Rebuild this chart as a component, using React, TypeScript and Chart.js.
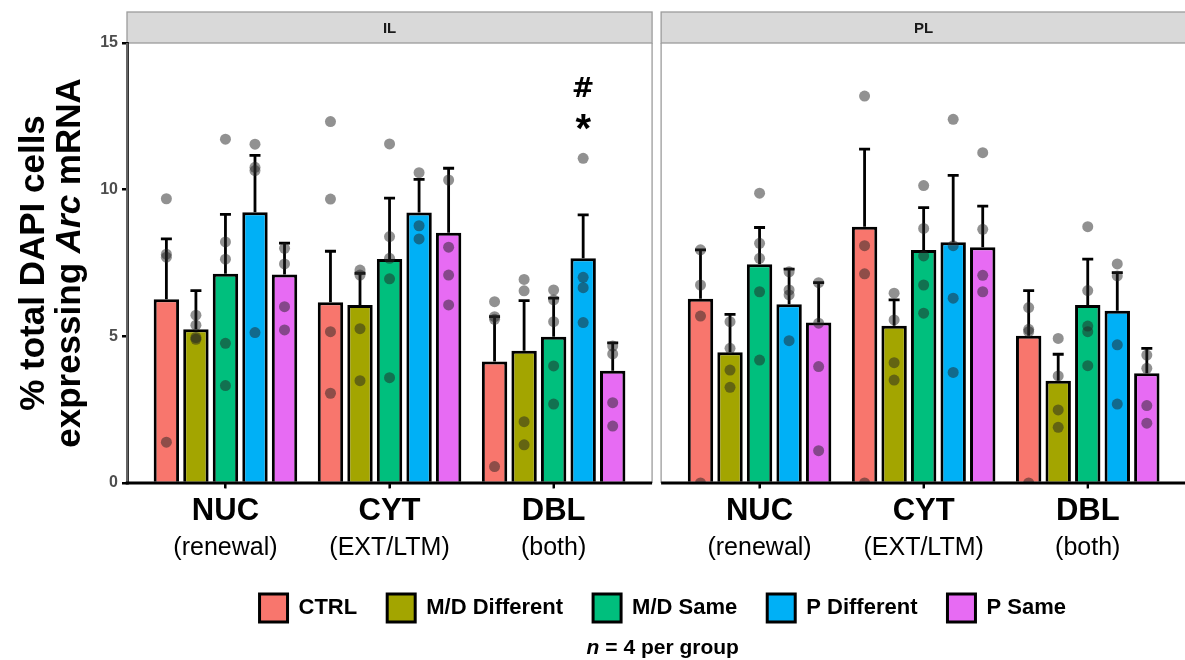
import React, { useEffect, useRef } from 'react';
import { Chart, registerables } from 'chart.js';

Chart.register(...registerables);

// ---------------- data ----------------
const panels = ['IL', 'PL'];
const categories = ['NUC', 'CYT', 'DBL'];
const subLabels = ['(renewal)', '(EXT/LTM)', '(both)'];
const groups = ['CTRL', 'M/D Different', 'M/D Same', 'P Different', 'P Same'];
const groupColors = ['#F8766D', '#A3A500', '#00BF7D', '#00B0F6', '#E76BF3'];
const yTicks = [0, 5, 10, 15];

// order of cells: IL NUC, IL CYT, IL DBL, PL NUC, PL CYT, PL DBL
const ctrlMean = [6.26, 6.16, 4.14, 6.28, 8.74, 5.02];
const mdDiffMean = [5.24, 6.07, 4.51, 4.46, 5.36, 3.49];
const mdSameMean = [7.13, 7.64, 4.99, 7.46, 7.94, 6.07];
const pDiffMean = [9.23, 9.22, 7.66, 6.09, 8.21, 5.87];
const pSameMean = [7.11, 8.53, 3.83, 5.47, 8.04, 3.74];

const ctrlUpper = [8.32, 7.9, 5.67, 7.95, 11.38, 6.56];
const mdDiffUpper = [6.56, 7.15, 6.22, 5.75, 6.24, 4.39];
const mdSameUpper = [9.16, 9.71, 6.3, 8.71, 9.39, 7.63];
const pDiffUpper = [11.17, 10.35, 9.14, 7.29, 10.49, 7.17];
const pSameUpper = [8.18, 10.73, 4.78, 6.83, 9.44, 4.59];

const ctrlPoints = [
  [9.69, 7.8, 7.7, 1.39], [12.32, 9.68, 5.16, 3.06], [6.18, 5.67, 5.58, 0.56],
  [7.95, 6.75, 5.69, 0], [13.19, 8.09, 7.13, 0], [5.98, 5.24, 5.16, 0],
];
const mdDiffPoints = [
  [5.72, 5.38, 4.96, 4.9], [7.26, 7.09, 5.26, 3.49], [6.94, 6.55, 2.09, 1.3],
  [5.5, 4.59, 3.85, 3.26], [6.47, 5.56, 4.1, 3.51], [4.93, 3.65, 2.49, 1.9],
];
const mdSamePoints = [
  [11.72, 8.22, 7.63, 4.76, 3.32], [11.56, 8.4, 7.66, 6.96, 3.59], [6.58, 6.24, 5.5, 3.99, 2.69],
  [9.88, 8.17, 7.66, 6.52, 4.19], [10.14, 8.68, 7.74, 6.75, 5.79], [8.74, 6.56, 5.35, 5.16, 4.0],
];
const pDiffPoints = [
  [11.55, 10.76, 10.65, 5.13], [10.58, 8.77, 8.32], [11.07, 7.01, 6.66, 5.47],
  [7.2, 6.58, 6.41, 4.85], [12.4, 8.09, 6.3, 3.77], [7.47, 7.06, 4.71, 2.69],
];
const pSamePoints = [
  [8.0, 7.47, 6.01, 5.22], [10.33, 8.04, 7.09, 6.07], [4.67, 4.4, 2.74, 1.94],
  [6.83, 5.45, 3.97, 1.1], [11.26, 8.65, 7.08, 6.52], [4.36, 3.91, 2.64, 2.04],
];

const sigMarks = [
  { text: '#', group: 3, cell: 2, y: 13.5 },
  { text: '*', group: 3, cell: 2, y: 12.3 },
];

const yTitleLine1 = '% total DAPI cells';
const yTitleLine2 = ['expressing ', 'Arc', ' mRNA'];
const footnoteItalic = 'n';
const footnoteRest = ' = 4 per group';

const means = [ctrlMean, mdDiffMean, mdSameMean, pDiffMean, pSameMean];
const uppers = [ctrlUpper, mdDiffUpper, mdSameUpper, pDiffUpper, pSameUpper];
const points = [ctrlPoints, mdDiffPoints, mdSamePoints, pDiffPoints, pSamePoints];

// ---------------- layout constants ----------------
const FONT = '"Liberation Sans", Arial, Helvetica, sans-serif';
const SYM_FONT = '"DejaVu Sans", "Liberation Sans", Arial, sans-serif';
const CAT_PCT = 0.9;
const BAR_PCT = 0.86;
const EXPAND = 0.6;
const PANEL_GAP = 0.055;
const PANEL_SPAN = categories.length - 1 + 2 * EXPAND;
const PL_OFFSET = PANEL_SPAN + PANEL_GAP;
const X_MIN = -EXPAND;
const X_MAX = 5.93;
const STRIP_TOP = 12;
const CANVAS_W = 1204;
const CANVAS_H = 660;

const positions = panels.flatMap((_, p) => categories.map((__, c) => p * PL_OFFSET + c));
const tickLabels = panels.flatMap(() => categories);
const tickSubLabels = panels.flatMap(() => subLabels);
const slot = CAT_PCT / groups.length;

const facetPlugin = {
  id: 'facetDecor',
  beforeDraw(chart: any) {
    const { ctx, chartArea } = chart;
    const xs = chart.scales.x;
    ctx.save();
    panels.forEach((name, p) => {
      const l = xs.getPixelForValue(p * PL_OFFSET - EXPAND);
      const r = xs.getPixelForValue(p * PL_OFFSET - EXPAND + PANEL_SPAN);
      ctx.fillStyle = '#D9D9D9';
      ctx.fillRect(l, STRIP_TOP, r - l, chartArea.top - STRIP_TOP);
      ctx.strokeStyle = '#9c9c9c';
      ctx.lineWidth = 1.3;
      ctx.strokeRect(l, STRIP_TOP, r - l, chartArea.top - STRIP_TOP);
      ctx.fillStyle = '#1a1a1a';
      ctx.font = `bold 15px ${FONT}`;
      ctx.textAlign = 'center';
      ctx.textBaseline = 'middle';
      ctx.fillText(name, (l + r) / 2, (STRIP_TOP + chartArea.top) / 2 + 1);
    });
    ctx.restore();
  },
  afterDatasetDraw(chart: any, args: any) {
    const meta = args.meta;
    if (meta.type !== 'bar') return;
    const up = uppers[args.index];
    if (!up) return;
    const { ctx } = chart;
    const ys = chart.scales.y;
    ctx.save();
    ctx.strokeStyle = '#000';
    ctx.lineWidth = 2.8;
    meta.data.forEach((el: any, j: number) => {
      const yE = ys.getPixelForValue(up[j]);
      ctx.beginPath();
      ctx.moveTo(el.x, el.y);
      ctx.lineTo(el.x, yE);
      ctx.moveTo(el.x - 5.5, yE);
      ctx.lineTo(el.x + 5.5, yE);
      ctx.stroke();
    });
    ctx.restore();
  },
  afterDatasetsDraw(chart: any) {
    const { ctx, chartArea } = chart;
    const xs = chart.scales.x;
    const ys = chart.scales.y;
    ctx.save();
    panels.forEach((_, p) => {
      const l = xs.getPixelForValue(p * PL_OFFSET - EXPAND);
      const r = xs.getPixelForValue(p * PL_OFFSET - EXPAND + PANEL_SPAN);
      ctx.strokeStyle = '#9c9c9c';
      ctx.lineWidth = 1.3;
      ctx.beginPath();
      ctx.moveTo(l, chartArea.top);
      ctx.lineTo(l, chartArea.bottom);
      ctx.moveTo(r, chartArea.top);
      ctx.lineTo(r, chartArea.bottom);
      ctx.stroke();
      ctx.strokeStyle = '#000';
      ctx.lineWidth = 2.8;
      ctx.beginPath();
      ctx.moveTo(p === 0 ? l - 1.3 : l, chartArea.bottom);
      ctx.lineTo(r, chartArea.bottom);
      ctx.stroke();
    });
    // x tick marks at category centres
    ctx.strokeStyle = '#000';
    ctx.lineWidth = 2.2;
    ctx.beginPath();
    positions.forEach((v) => {
      const px = xs.getPixelForValue(v);
      ctx.moveTo(px, chartArea.bottom);
      ctx.lineTo(px, chartArea.bottom + 5.5);
    });
    ctx.stroke();
    // significance marks
    sigMarks.forEach((m) => {
      const el = chart.getDatasetMeta(m.group).data[m.cell];
      const cy = ys.getPixelForValue(m.y);
      ctx.fillStyle = '#000';
      ctx.font = m.text === '*' ? `bold 40px ${FONT}` : `bold 27px ${SYM_FONT}`;
      ctx.textAlign = 'center';
      ctx.textBaseline = 'alphabetic';
      const mt = ctx.measureText(m.text);
      const by = cy + (mt.actualBoundingBoxAscent - mt.actualBoundingBoxDescent) / 2;
      ctx.fillText(m.text, el.x, by);
    });
    ctx.restore();
  },
  afterDraw(chart: any) {
    const { ctx, chartArea } = chart;
    const xs = chart.scales.x;
    ctx.save();
    // secondary x labels
    ctx.fillStyle = '#000';
    ctx.font = `25px ${FONT}`;
    ctx.textAlign = 'center';
    ctx.textBaseline = 'middle';
    positions.forEach((v, i) => {
      ctx.fillText(tickSubLabels[i], xs.getPixelForValue(v), 548);
    });
    // y title
    const cy = (chartArea.top + chartArea.bottom) / 2;
    ctx.save();
    ctx.translate(44, cy);
    ctx.rotate(-Math.PI / 2);
    ctx.font = `bold 35px ${FONT}`;
    ctx.textAlign = 'center';
    ctx.textBaseline = 'alphabetic';
    ctx.fillText(yTitleLine1, 0, 0);
    ctx.restore();
    ctx.save();
    ctx.translate(80, cy);
    ctx.rotate(-Math.PI / 2);
    ctx.textBaseline = 'alphabetic';
    ctx.textAlign = 'left';
    const fonts = [`bold 35px ${FONT}`, `italic bold 35px ${FONT}`, `bold 35px ${FONT}`];
    let total = 0;
    yTitleLine2.forEach((s, i) => { ctx.font = fonts[i]; total += ctx.measureText(s).width; });
    let xx = -total / 2;
    yTitleLine2.forEach((s, i) => {
      ctx.font = fonts[i];
      ctx.fillText(s, xx, 0);
      xx += ctx.measureText(s).width;
    });
    ctx.restore();
    // footnote
    const fx = (chartArea.left + chartArea.right) / 2;
    ctx.textBaseline = 'middle';
    ctx.textAlign = 'left';
    ctx.font = `italic bold 21px ${FONT}`;
    const w1 = ctx.measureText(footnoteItalic).width;
    ctx.font = `bold 21px ${FONT}`;
    const w2 = ctx.measureText(footnoteRest).width;
    const sx = fx - (w1 + w2) / 2;
    ctx.font = `italic bold 21px ${FONT}`;
    ctx.fillText(footnoteItalic, sx, 648);
    ctx.font = `bold 21px ${FONT}`;
    ctx.fillText(footnoteRest, sx + w1, 648);
    ctx.restore();
  },
};

export default function App() {
  const canvasRef = useRef<HTMLCanvasElement | null>(null);

  useEffect(() => {
    const canvas = canvasRef.current;
    if (!canvas) return;

    const barSets = groups.map((g, i) => ({
      type: 'bar' as const,
      label: g,
      data: positions.map((x, j) => ({ x, y: means[i][j] })),
      backgroundColor: groupColors[i],
      borderColor: '#000',
      borderWidth: 3,
      borderSkipped: 'start',
      barPercentage: BAR_PCT,
      categoryPercentage: CAT_PCT,
      order: 2,
    }));

    const pointSets = groups.map((g, i) => ({
      type: 'scatter' as const,
      label: g + ' points',
      data: positions.flatMap((x, j) =>
        points[i][j].map((v) => ({ x: x + (i - (groups.length - 1) / 2) * slot, y: v }))
      ),
      backgroundColor: 'rgba(35,35,35,0.5)',
      borderWidth: 0,
      pointRadius: 5.5,
      pointHoverRadius: 5.5,
      clip: { left: false, right: false, top: false, bottom: 0 },
      order: 0,
    }));

    const chart = new Chart(canvas, {
      type: 'bar',
      data: { datasets: [...barSets, ...pointSets] as any },
      options: {
        responsive: false,
        animation: false,
        devicePixelRatio: 1,
        events: [],
        layout: { padding: { top: 43, bottom: 28, left: 0, right: 0 } },
        plugins: {
          tooltip: { enabled: false },
          legend: {
            display: true,
            position: 'bottom',
            fullSize: false,
            align: 'center',
            labels: {
              boxWidth: 28,
              boxHeight: 28,
              padding: 30,
              color: '#000',
              font: { family: FONT, size: 22, weight: 'bold' },
              filter: (item: any) => item.datasetIndex < groups.length,
            },
          },
        },
        scales: {
          x: {
            type: 'linear',
            min: X_MIN,
            max: X_MAX,
            offset: false,
            bounds: 'data',
            grid: {
              display: true,
              offset: false,
              drawOnChartArea: false,
              drawTicks: true,
              tickLength: 5,
              color: '#000',
              lineWidth: 2,
            },
            border: { display: false },
            afterBuildTicks: (scale: any) => {
              scale.ticks = positions.map((v) => ({ value: v }));
            },
            afterFit: (scale: any) => {
              scale.height = 81;
            },
            ticks: {
              autoSkip: false,
              maxRotation: 0,
              minRotation: 0,
              padding: 5,
              color: '#000',
              font: { family: FONT, size: 31, weight: 'bold' },
              callback: (_v: any, i: number) => tickLabels[i],
            },
          },
          y: {
            type: 'linear',
            min: 0,
            max: 15,
            afterBuildTicks: (scale: any) => {
              scale.ticks = yTicks.map((v) => ({ value: v }));
            },
            afterFit: (scale: any) => {
              scale.width = 127;
            },
            grid: {
              display: true,
              drawOnChartArea: false,
              drawTicks: true,
              tickLength: 5,
              color: '#000',
              lineWidth: 2.5,
            },
            border: { display: true, color: '#000', width: 2.8 },
            ticks: {
              padding: 4,
              color: '#4D4D4D',
              font: { family: FONT, size: 16, weight: 'bold' },
            },
          },
        },
      },
      plugins: [facetPlugin],
    });

    return () => chart.destroy();
  }, []);

  return (
    <div
      style={{
        position: 'fixed',
        left: 0,
        top: 0,
        width: 1185,
        height: 660,
        overflow: 'hidden',
        background: '#fff',
      }}
    >
      <canvas
        ref={canvasRef}
        width={CANVAS_W}
        height={CANVAS_H}
        style={{ display: 'block', width: CANVAS_W, height: CANVAS_H }}
      />
    </div>
  );
}
